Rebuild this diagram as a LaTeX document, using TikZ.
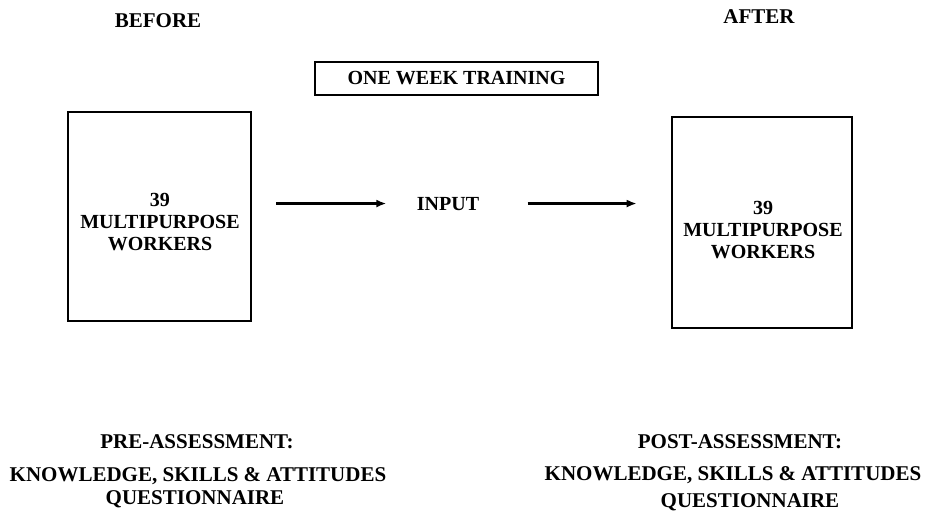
\documentclass[tikz,border=0pt]{standalone}
\usepackage{fontspec}
\setmainfont{Liberation Serif}
\usetikzlibrary{arrows.meta}
\begin{document}
\begin{tikzpicture}[x=1pt,y=-1pt,
  heading/.style={anchor=base,font=\bfseries\fontsize{21}{24}\selectfont},
  lbl/.style={anchor=base,font=\bfseries\fontsize{20}{22}\selectfont},
  bottomtxt/.style={anchor=base,font=\bfseries\fontsize{21}{23}\selectfont},
  bigbox/.style={draw,line width=2.6pt,inner sep=0pt},
  boxtxt/.style={align=center,font=\bfseries\fontsize{20}{22}\selectfont},
  trainbox/.style={draw,line width=2.6pt,inner sep=0pt,font=\bfseries\fontsize{20}{22}\selectfont},
  arr/.style={line width=2.4pt,-{Latex[length=10pt,width=8pt]}}
]
\useasboundingbox (0,0) rectangle (927,512);

\node[heading] (before) at (158,27) {BEFORE};
\node[heading] (after) at (759,23) {AFTER};

\node[trainbox,minimum width=283pt,minimum height=33pt] (train) at (456.5,78.5) {ONE WEEK TRAINING};

\node[bigbox,minimum width=183pt,minimum height=209pt] (lbox) at (159.5,216.5) {};
\node[boxtxt] (ltxt) at (160,222.5) {39\\MULTIPURPOSE\\WORKERS};

\node[bigbox,minimum width=180pt,minimum height=211pt] (rbox) at (762,222.5) {};
\node[boxtxt] (rtxt) at (763,230) {39\\MULTIPURPOSE\\WORKERS};

\node[lbl] (input) at (448,210) {INPUT};

\draw[arr] ([xshift=24pt]lbox.east |- input.west) -- ([xshift=-27pt]input.west);
\draw[arr] ([xshift=45pt]input.east) -- ([xshift=-34pt]rbox.west |- input.east);

\node[bottomtxt] (pre) at (197,448) {PRE-ASSESSMENT:};
\node[bottomtxt] (knowl1) at (198,481) {KNOWLEDGE, SKILLS \& ATTITUDES};
\node[bottomtxt] (quest1) at (195,504) {QUESTIONNAIRE};

\node[bottomtxt] (post) at (740,448) {POST-ASSESSMENT:};
\node[bottomtxt] (knowl2) at (733,480) {KNOWLEDGE, SKILLS \& ATTITUDES};
\node[bottomtxt] (quest2) at (750,507) {QUESTIONNAIRE};
\end{tikzpicture}
\end{document}
